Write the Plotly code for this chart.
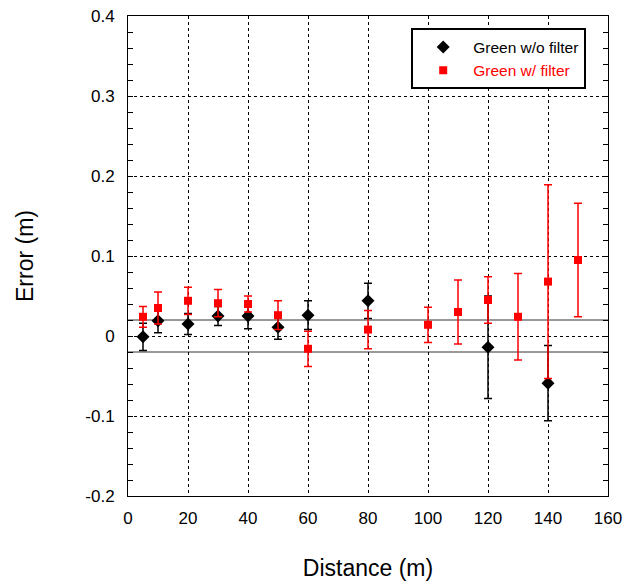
import plotly.graph_objects as go

# Data
black_x = [5, 10, 20, 30, 40, 50, 60, 80, 120, 140]
black_y = [-0.001, 0.019, 0.015, 0.025, 0.025, 0.011, 0.026, 0.044, -0.014, -0.059]
black_err = [0.017, 0.015, 0.013, 0.012, 0.016, 0.015, 0.018, 0.022, 0.064, 0.047]

red_x = [5, 10, 20, 30, 40, 50, 60, 80, 100, 110, 120, 130, 140, 150]
red_y = [0.024, 0.035, 0.044, 0.041, 0.040, 0.026, -0.016, 0.008, 0.014, 0.030, 0.045, 0.024, 0.068, 0.095]
red_err = [0.013, 0.020, 0.017, 0.017, 0.010, 0.018, 0.022, 0.024, 0.022, 0.040, 0.029, 0.054, 0.121, 0.071]

band_levels = [0.02, -0.02]

x_ticks = [0, 20, 40, 60, 80, 100, 120, 140, 160]
y_ticks = [-0.2, -0.1, 0, 0.1, 0.2, 0.3, 0.4]
y_tick_labels = ["-0.2", "-0.1", "0", "0.1", "0.2", "0.3", "0.4"]

FONT = "Liberation Sans, Arial, sans-serif"

fig = go.Figure()

fig.add_trace(go.Scatter(
    x=black_x, y=black_y, mode="markers", name="Green w/o filter",
    marker=dict(symbol="diamond", size=10, color="black"),
    error_y=dict(type="data", array=black_err, visible=True, color="black",
                 thickness=1.5, width=4),
))
fig.add_trace(go.Scatter(
    x=red_x, y=red_y, mode="markers",
    name="<span style='color:#ff0000'>Green w/ filter</span>",
    marker=dict(symbol="square", size=8, color="#ff0000"),
    error_y=dict(type="data", array=red_err, visible=True, color="#ff0000",
                 thickness=1.5, width=4),
))

for lvl in band_levels:
    fig.add_shape(type="line", xref="paper", x0=0, x1=1, yref="y", y0=lvl, y1=lvl,
                  line=dict(color="#333333", width=1), layer="below")

fig.update_layout(
    width=623, height=581,
    margin=dict(l=128, r=15, t=16, b=85),
    paper_bgcolor="white", plot_bgcolor="white",
    font=dict(family=FONT, size=17, color="black"),
    showlegend=True,
    legend=dict(
        x=0.59, y=0.974, xanchor="left", yanchor="top",
        bordercolor="black", borderwidth=2, bgcolor="white",
        font=dict(family=FONT, size=15.5, color="black"),
        itemwidth=50, tracegroupgap=0,
    ),
    xaxis=dict(
        range=[0, 160], tickvals=x_ticks, ticktext=[str(v) for v in x_ticks],
        showline=True, linecolor="black", linewidth=1, mirror=True,
        showgrid=True, gridcolor="black", griddash="dot", gridwidth=1,
        zeroline=False, ticks="", automargin=False, ticklabelstandoff=7,
        tickfont=dict(family=FONT, size=17),
        title=dict(text="Distance (m)", font=dict(family=FONT, size=23), standoff=32),
    ),
    yaxis=dict(
        range=[-0.2, 0.4], tickvals=y_ticks, ticktext=y_tick_labels,
        showline=True, linecolor="black", linewidth=1, mirror="ticks",
        showgrid=True, gridcolor="black", griddash="dot", gridwidth=1,
        zeroline=False, ticks="inside", ticklen=5, tickcolor="black",
        ticklabelstandoff=9, automargin=False,
        minor=dict(dtick=0.02, tick0=0, ticks="inside", ticklen=5, tickcolor="black",
                   showgrid=False),
        tickfont=dict(family=FONT, size=17),
        title=dict(text="Error (m)", font=dict(family=FONT, size=23), standoff=45),
    ),
)

# remove the default page margin so the figure fills the window exactly
fig.write_html(
    "out.html",
    config={"displayModeBar": False},
    post_script="document.body.style.margin='0';document.body.style.overflow='hidden';",
)
